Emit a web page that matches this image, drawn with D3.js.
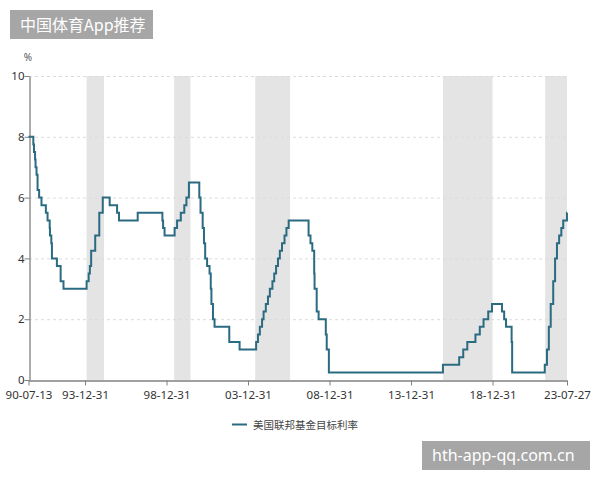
<!DOCTYPE html>
<html><head><meta charset="utf-8">
<script src="https://cdn.jsdelivr.net/npm/d3@7"></script>
<style>body{margin:0;background:#fff;}svg{display:block;font-family:"Noto Sans","Noto Sans CJK SC",sans-serif;}</style>
</head><body>
<svg id="chart" width="600" height="480"></svg>
<script>
// Fed funds target rate change points (date, level %)
const rateDates = ["1990-07-13","1990-10-29","1990-11-13","1990-12-07","1990-12-18","1991-01-09","1991-02-01","1991-03-08","1991-04-30","1991-08-06","1991-09-13","1991-10-31","1991-11-06","1991-12-06","1991-12-20","1992-04-09","1992-07-02","1992-09-04","1994-02-04","1994-03-22","1994-04-18","1994-05-17","1994-08-16","1994-11-15","1995-02-01","1995-07-06","1995-12-19","1996-01-31","1997-03-25","1998-09-29","1998-10-15","1998-11-17","1999-06-30","1999-08-24","1999-11-16","2000-02-02","2000-03-21","2000-05-16","2001-01-03","2001-01-31","2001-03-20","2001-04-18","2001-05-15","2001-06-27","2001-08-21","2001-09-17","2001-10-02","2001-11-06","2001-12-11","2002-11-06","2003-06-25","2004-06-30","2004-08-10","2004-09-21","2004-11-10","2004-12-14","2005-02-02","2005-03-22","2005-05-03","2005-06-30","2005-08-09","2005-09-20","2005-11-01","2005-12-13","2006-01-31","2006-03-28","2006-05-10","2006-06-29","2007-09-18","2007-10-31","2007-12-11","2008-01-22","2008-01-30","2008-03-18","2008-04-30","2008-10-08","2008-10-29","2008-12-16","2015-12-16","2016-12-14","2017-03-15","2017-06-14","2017-12-13","2018-03-21","2018-06-13","2018-09-26","2018-12-19","2019-07-31","2019-09-18","2019-10-30","2020-03-03","2020-03-15","2022-03-16","2022-05-04","2022-06-15","2022-07-27","2022-09-21","2022-11-02","2022-12-14","2023-02-01","2023-03-22","2023-05-03","2023-07-26","2023-07-27"];
const rateValues = [8.00,7.75,7.50,7.25,7.00,6.75,6.25,6.00,5.75,5.50,5.25,5.00,4.75,4.50,4.00,3.75,3.25,3.00,3.25,3.50,3.75,4.25,4.75,5.50,6.00,5.75,5.50,5.25,5.50,5.25,5.00,4.75,5.00,5.25,5.50,5.75,6.00,6.50,6.00,5.50,5.00,4.50,4.00,3.75,3.50,3.00,2.50,2.00,1.75,1.25,1.00,1.25,1.50,1.75,2.00,2.25,2.50,2.75,3.00,3.25,3.50,3.75,4.00,4.25,4.50,4.75,5.00,5.25,4.75,4.50,4.25,3.50,3.00,2.25,2.00,1.50,1.00,0.25,0.50,0.75,1.00,1.25,1.50,1.75,2.00,2.25,2.50,2.25,2.00,1.75,1.25,0.25,0.50,1.00,1.75,2.50,3.25,4.00,4.50,4.75,5.00,5.25,5.50,5.50];
// Shaded periods (rate hike cycles)
const shadeStarts = ["1994-02-04","1999-06-20","2004-06-10","2015-12-16","2022-03-25"];
const shadeEnds   = ["1995-03-01","2000-06-20","2006-07-31","2018-12-31","2023-07-27"];
// Axis ticks
const xTickDates = ["1990-07-13","1993-12-31","1998-12-31","2003-12-31","2008-12-31","2013-12-31","2018-12-31","2023-07-27"];
const xTickLabels = ["90-07-13","93-12-31","98-12-31","03-12-31","08-12-31","13-12-31","18-12-31","23-07-27"];
const yTicks = [0,2,4,6,8,10];
const seriesName = "美国联邦基金目标利率";
const yUnit = "%";
const titleText = "中国体育App推荐";
const watermarkText = "hth-app-qq.com.cn";

const parse = d3.utcParse("%Y-%m-%d");
const data = rateDates.map((d,i)=>({date:parse(d), v:rateValues[i]}));

const svg = d3.select("#chart");
const x = d3.scaleUtc().domain([parse(xTickDates[0]), parse(xTickDates[xTickDates.length-1])]).range([28.5, 567]);
const y = d3.scaleLinear().domain([0,10]).range([380, 76]);

// shades
svg.append("g").selectAll("rect").data(shadeStarts).join("rect")
  .attr("x", (d)=>x(parse(d)))
  .attr("width", (d,i)=>x(parse(shadeEnds[i]))-x(parse(d)))
  .attr("y", y(10)).attr("height", y(0)-y(10))
  .attr("fill", "#e4e4e4");

// grid
svg.append("g").selectAll("line").data(yTicks.filter(t=>t>0)).join("line")
  .attr("x1", 29).attr("x2", 567)
  .attr("y1", d=>y(d)+0.5).attr("y2", d=>y(d)+0.5)
  .attr("stroke", "#dcdcdc").attr("stroke-dasharray","3,3").attr("stroke-width",1);

// axes
const xAxis = d3.axisBottom(x).tickValues(xTickDates.map(parse)).tickFormat((d,i)=>xTickLabels[i]).tickSize(5).tickSizeOuter(0);
const gx = svg.append("g").attr("transform","translate(0,380.5)").call(xAxis);
const yAxis = d3.axisLeft(y).tickValues(yTicks).tickSize(5).tickSizeOuter(0);
const gy = svg.append("g").attr("transform","translate(29.5,0)").call(yAxis);
[gx,gy].forEach(g=>{
  g.select(".domain").attr("stroke","#808080").attr("stroke-width",1.3);
  g.selectAll(".tick line").attr("stroke","#808080");
  g.selectAll(".tick text").attr("fill","#333").style("font-size","11.5px").style("font-family","'Noto Sans',sans-serif");
});
gx.selectAll(".tick text").attr("dy","0.95em");
gy.selectAll(".tick text").attr("x",-5);

// unit
svg.append("text").attr("x",28).attr("y",61).attr("text-anchor","middle").attr("fill","#555").style("font-size","10px").text(yUnit);

// line
const line = d3.line().x(d=>x(d.date)).y(d=>y(d.v)).curve(d3.curveStepAfter);
svg.append("path").datum(data).attr("d",line).attr("fill","none").attr("stroke","#2b6b82").attr("stroke-width",2);

// legend
svg.append("line").attr("x1",232).attr("x2",247).attr("y1",424.5).attr("y2",424.5).attr("stroke","#2b6b82").attr("stroke-width",2);
svg.append("text").attr("x",253).attr("y",428.5).attr("fill","#444").style("font-size","10.5px").style("font-family","'Noto Sans CJK SC',sans-serif").text(seriesName);

// title box
svg.append("rect").attr("x",10).attr("y",10).attr("width",143).attr("height",29).attr("fill","#a6a6a6");
svg.append("text").attr("x",20).attr("y",30.5).attr("fill","#fff").style("font-size","16px").style("font-family","'Noto Sans CJK SC',sans-serif").text(titleText);

// watermark box
svg.append("rect").attr("x",422).attr("y",441).attr("width",168).attr("height",29).attr("fill","#a6a6a6");
svg.append("text").attr("x",432).attr("y",461).attr("fill","#fff").style("font-size","16px").style("font-family","'Noto Sans',sans-serif").text(watermarkText);
</script>
</body></html>
